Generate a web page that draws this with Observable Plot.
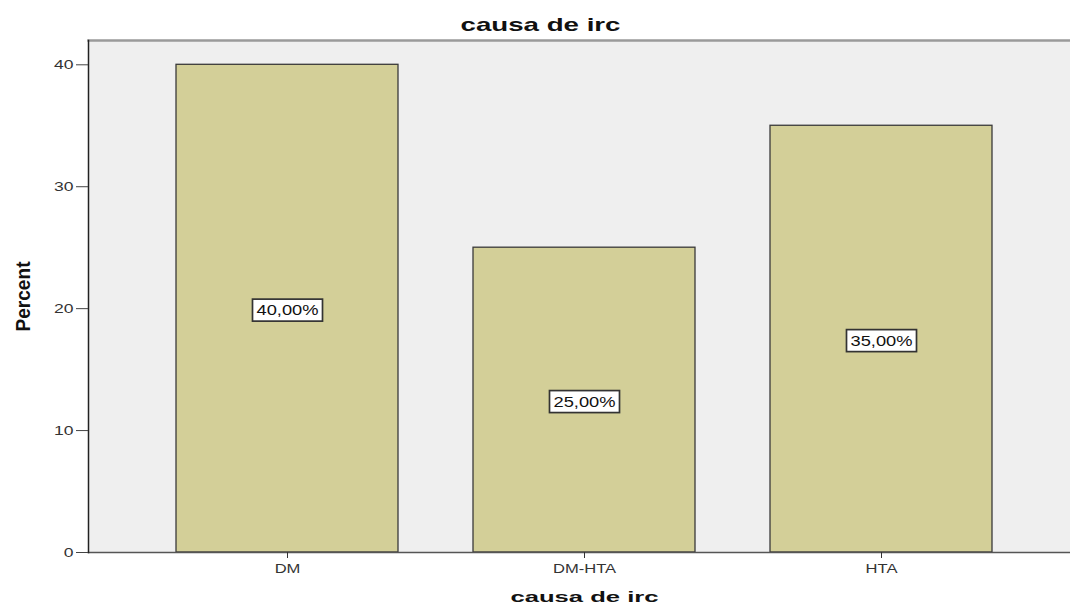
<!DOCTYPE html>
<html>
<head>
<meta charset="utf-8">
<script src="https://cdn.jsdelivr.net/npm/d3@7"></script>
<script src="https://cdn.jsdelivr.net/npm/@observablehq/plot@0.6"></script>
<style>
  html, body { margin: 0; padding: 0; background: #fff; }
  svg { display: block; }
</style>
</head>
<body>
<div id="chart"></div>
<script>
const categories = ["DM", "DM-HTA", "HTA"];
const percents = [40, 25, 35];
const valueLabels = ["40,00%", "25,00%", "35,00%"];
const yTicks = [0, 10, 20, 30, 40];
const titleText = "causa de irc";
const xLabelText = "causa de irc";
const yLabelText = "Percent";

const data = categories.map((c, i) => ({cat: c, pct: percents[i], label: valueLabels[i]}));

const W = 1070, H = 607;
const mL = 88, mT = 40, mB = 55;
const yMax = 40 * (H - mB - mT) / 487.7;

const plot = Plot.plot({
  width: W,
  height: H,
  marginLeft: mL,
  marginRight: 0,
  marginTop: mT,
  marginBottom: mB,
  style: {fontFamily: "'Liberation Sans', Arial, sans-serif", background: "#fff", overflow: "visible"},
  x: {domain: categories, range: [mL, 1081], paddingInner: 0.2517, paddingOuter: 0.292, align: 0.5, label: null, axis: null},
  y: {domain: [0, yMax], label: null, axis: null},
  marks: [
    Plot.frame({fill: "#efefef", stroke: "none"}),
    Plot.barY(data, {x: "cat", y: "pct", fill: "#d3cf98", stroke: "#3a3a3a", strokeWidth: 1.3}),
    Plot.frame({anchor: "top", stroke: "#9a9a9a", strokeWidth: 2.5}),
    Plot.frame({anchor: "bottom", stroke: "#555", strokeWidth: 1.5}),
    Plot.frame({anchor: "left", stroke: "#222", strokeWidth: 1.5}),
    Plot.axisY(yTicks, {tickSize: 12, tickPadding: 3, fontSize: 13, color: "#333", stroke: "#444", label: null, ariaDescription: "ylab"}),
    Plot.axisX({tickSize: 6, tickPadding: 6, fontSize: 12, color: "#333", stroke: "#333", label: null, ariaDescription: "xlab"}),
    Plot.text(data, {x: "cat", y: d => d.pct / 2, text: "label", fontSize: 14, fill: "#111", dy: 2, ariaDescription: "vlabels"}),
    Plot.text([titleText], {frameAnchor: "top", lineAnchor: "middle", dy: -16, dx: -39, fontSize: 19, fontWeight: "bold", fill: "#111", ariaDescription: "title"}),
    Plot.text([xLabelText], {x: [categories[1]], frameAnchor: "bottom", lineAnchor: "middle", dy: 45, fontSize: 15, fontWeight: "bold", fill: "#111", ariaDescription: "xtitle"}),
    Plot.text([yLabelText], {frameAnchor: "left", textAnchor: "middle", lineAnchor: "middle", dx: -65, dy: 0, rotate: -90, fontSize: 20, fontWeight: "bold", fill: "#111", ariaDescription: "ytitle"})
  ]
});

document.getElementById("chart").appendChild(plot);
const svg = d3.select(plot);

function stretch(sel, factor, fixed) {
  sel.each(function() {
    const len = fixed != null ? fixed : this.getComputedTextLength() * factor;
    this.setAttribute("textLength", len);
    this.setAttribute("lengthAdjust", "spacingAndGlyphs");
  });
}

stretch(svg.selectAll('g[aria-description="ylab"] text'), 1.35);
stretch(svg.selectAll('g[aria-description="xlab"] text'), 1.38);
stretch(svg.selectAll('g[aria-description="title"] text'), null, 160);
stretch(svg.selectAll('g[aria-description="xtitle"] text'), null, 148);
stretch(svg.selectAll('g[aria-description="ytitle"] text'), null, 70);
stretch(svg.selectAll('g[aria-description="vlabels"] text'), null, 62);

svg.selectAll('g[aria-description="vlabels"] text').each(function() {
  const b = this.getBBox();
  const padX = 4, padY = 4;
  const rect = document.createElementNS("http://www.w3.org/2000/svg", "rect");
  rect.setAttribute("x", b.x - padX);
  rect.setAttribute("y", b.y - padY + 1);
  rect.setAttribute("width", b.width + 2 * padX);
  rect.setAttribute("height", b.height + 2 * padY - 2);
  rect.setAttribute("fill", "#fff");
  rect.setAttribute("stroke", "#333");
  rect.setAttribute("stroke-width", "1.7");
  const t = this.getAttribute("transform");
  if (t) rect.setAttribute("transform", t);
  this.parentNode.insertBefore(rect, this);
});
</script>
</body>
</html>
